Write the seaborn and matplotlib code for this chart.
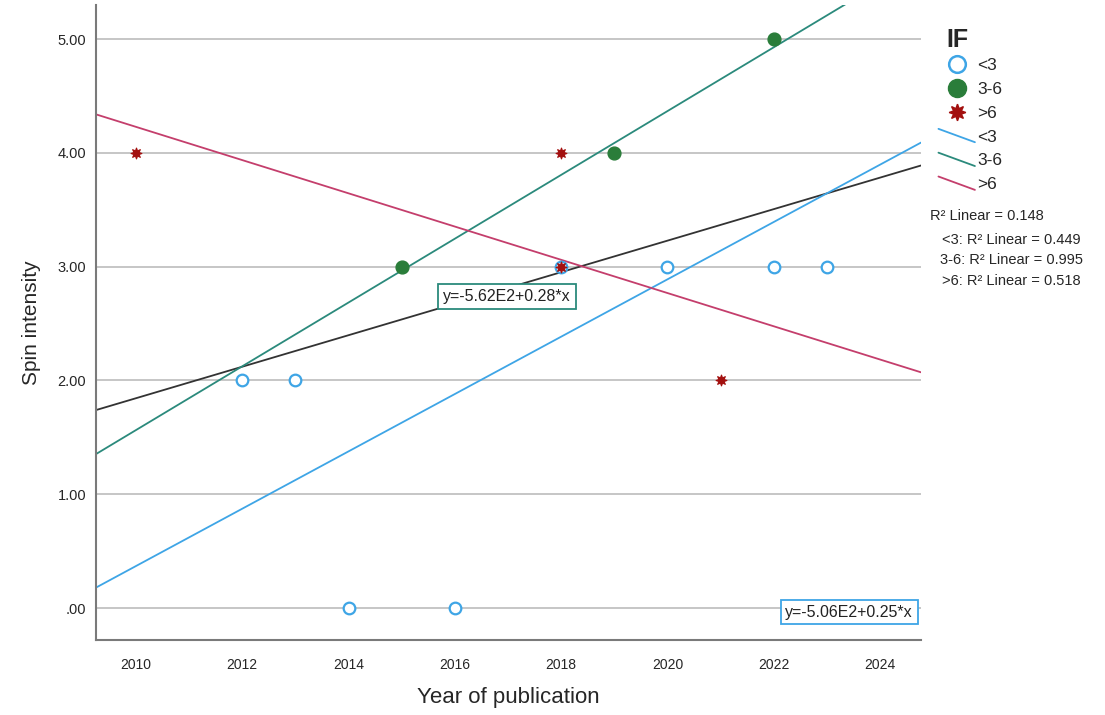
import numpy as np
import pandas as pd
import matplotlib
matplotlib.use("Agg")
import matplotlib.pyplot as plt
from matplotlib.lines import Line2D
from matplotlib.legend_handler import HandlerBase
import seaborn as sns

# Publications grouped by impact factor (IF)
groups = ["<3", "3-6", ">6"]
lt3_year = [2012, 2013, 2014, 2016, 2018, 2020, 2022, 2023]
lt3_spin = [2, 2, 0, 0, 3, 3, 3, 3]
mid_year = [2015, 2019, 2022]
mid_spin = [3, 4, 5]
gt6_year = [2010, 2018, 2018, 2021]
gt6_spin = [4, 4, 3, 2]

# Linear fits: total and per IF group
fit_names = ["Total", "<3", "3-6", ">6"]
fit_intercepts = [-276.541, -506.151, -562.0, 297.83]
fit_slopes = [0.1385, 0.2520, 0.28038, -0.14607]
fit_r2 = [0.148, 0.449, 0.995, 0.518]

x_ticks = [2010, 2012, 2014, 2016, 2018, 2020, 2022, 2024]
y_ticks = [0, 1, 2, 3, 4, 5]

points = pd.DataFrame({
    "year": lt3_year + mid_year + gt6_year,
    "spin": lt3_spin + mid_spin + gt6_spin,
    "IF": ["<3"] * len(lt3_year) + ["3-6"] * len(mid_year) + [">6"] * len(gt6_year),
})

sns.set_theme(style="white")
plt.rcParams["font.family"] = ["Liberation Sans", "DejaVu Sans"]

BLUE = "#3ea5e6"
TEAL = "#2b8a7c"
GREEN = "#2a7d3a"
DARKRED = "#a3100f"
CRIMSON = "#c43e6c"
TOTAL = "#333333"

fit_colors = {"Total": TOTAL, "<3": BLUE, "3-6": TEAL, ">6": CRIMSON}
star = (8, 1, 0)
marker_style = {
    "<3": dict(marker="o", s=70, facecolor="white", edgecolor=BLUE, linewidth=1.6),
    "3-6": dict(marker="o", s=85, facecolor=GREEN, edgecolor=GREEN, linewidth=1.0),
    ">6": dict(marker=star, s=62, facecolor=DARKRED, edgecolor=DARKRED, linewidth=0.8),
}

fig, ax = plt.subplots(figsize=(11.05, 7.15), dpi=100)
fig.subplots_adjust(left=0.0869, right=0.8335, bottom=0.105, top=0.993)

xlim = (2009.25, 2024.77)
ylim = (-0.28, 5.30)
ax.set_xlim(*xlim)
ax.set_ylim(*ylim)

# Fit lines across the full x range
xs = np.array(xlim)
for name, b, m in zip(fit_names, fit_intercepts, fit_slopes):
    sns.lineplot(x=xs, y=b + m * xs, ax=ax, color=fit_colors[name], lw=1.3,
                 zorder=2, legend=False)

# Scatter points per group
for grp in groups:
    sub = points[points["IF"] == grp]
    sns.scatterplot(data=sub, x="year", y="spin", ax=ax, zorder=3, legend=False,
                    **marker_style[grp])

ax.set_xlim(*xlim)
ax.set_ylim(*ylim)

# Axes styling
ax.set_yticks(y_ticks)
ax.set_yticklabels([(f"{v:.2f}"[1:] if v == 0 else f"{v:.2f}") for v in y_ticks],
                   fontsize=10.5)
ax.set_xticks(x_ticks)
ax.set_xticklabels([str(v) for v in x_ticks], fontsize=10)
ax.tick_params(axis="both", length=0)
ax.tick_params(axis="y", pad=7)
ax.tick_params(axis="x", pad=13)
ax.yaxis.grid(True, color="#c6c6c6", lw=1.4)
ax.xaxis.grid(False)
ax.set_axisbelow(True)
for side in ["top", "right"]:
    ax.spines[side].set_visible(False)
for side in ["left", "bottom"]:
    ax.spines[side].set_color("#7a7a7a")
    ax.spines[side].set_linewidth(1.5)

ax.set_xlabel("Year of publication", fontsize=16, labelpad=11)
ax.set_ylabel("Spin intensity", fontsize=15, labelpad=12)


def eq_text(b, m):
    sign = "+" if m >= 0 else "-"
    return f"y={b / 100:.2f}E2{sign}{abs(m):.2f}*x"


# Equation boxes for the 3-6 and <3 fits
i_mid = fit_names.index("3-6")
ax.text(2016.98, 2.74, eq_text(fit_intercepts[i_mid], fit_slopes[i_mid]),
        ha="center", va="center", fontsize=11.5, color="#222222", zorder=5,
        bbox=dict(boxstyle="square,pad=0.3", fc="white", ec=TEAL, lw=1.3))
i_low = fit_names.index("<3")
ax.text(2024.62, -0.035, eq_text(fit_intercepts[i_low], fit_slopes[i_low]),
        ha="right", va="center", fontsize=11.5, color="#222222", zorder=5,
        bbox=dict(boxstyle="square,pad=0.3", fc="white", ec=BLUE, lw=1.3))


class DiagonalLineHandler(HandlerBase):
    def create_artists(self, legend, orig_handle, xdescent, ydescent, width,
                       height, fontsize, trans):
        x0, x1 = -xdescent, -xdescent + width
        y0, y1 = -ydescent + height * 1.05, -ydescent - height * 0.05
        line = Line2D([x0, x1], [y0, y1], color=orig_handle.get_color(),
                      lw=orig_handle.get_linewidth())
        line.set_transform(trans)
        return [line]


handles = [
    Line2D([], [], ls="none", marker="o", markersize=12, markerfacecolor="white",
           markeredgecolor=BLUE, markeredgewidth=1.8),
    Line2D([], [], ls="none", marker="o", markersize=13, markerfacecolor=GREEN,
           markeredgecolor=GREEN),
    Line2D([], [], ls="none", marker=star, markersize=12, markerfacecolor=DARKRED,
           markeredgecolor=DARKRED),
    Line2D([], [], color=BLUE, lw=1.3),
    Line2D([], [], color=TEAL, lw=1.3),
    Line2D([], [], color=CRIMSON, lw=1.3),
]
labels = groups + groups
handler_map = {h: DiagonalLineHandler() for h in handles[3:]}
leg = fig.legend(handles, labels, loc="upper left", bbox_to_anchor=(0.843, 0.970),
                 frameon=False, fontsize=12.5, title="IF", handlelength=2.1,
                 handletextpad=0.15, labelspacing=0.5, borderaxespad=0,
                 handler_map=handler_map,
                 title_fontproperties={"weight": "bold", "size": 18})
leg._legend_box.align = "left"
leg._legend_box.sep = 4
leg.get_title().set_position((8, 0))

# R-squared summary lines
r2_lines = [f"R\u00b2 Linear = {fit_r2[0]:.3f}"] + [
    f"{n}: R\u00b2 Linear = {r:.3f}" for n, r in zip(fit_names[1:], fit_r2[1:])
]
fig.text(930 / 1105, 1 - 216 / 715, r2_lines[0], ha="left", va="center", fontsize=10.5)
for k, txt in enumerate(r2_lines[1:]):
    fig.text(1011 / 1105, 1 - (240 + 20.5 * k) / 715, txt, ha="center", va="center",
             fontsize=10.5)

fig.savefig("out.png", dpi=100, facecolor="white")
